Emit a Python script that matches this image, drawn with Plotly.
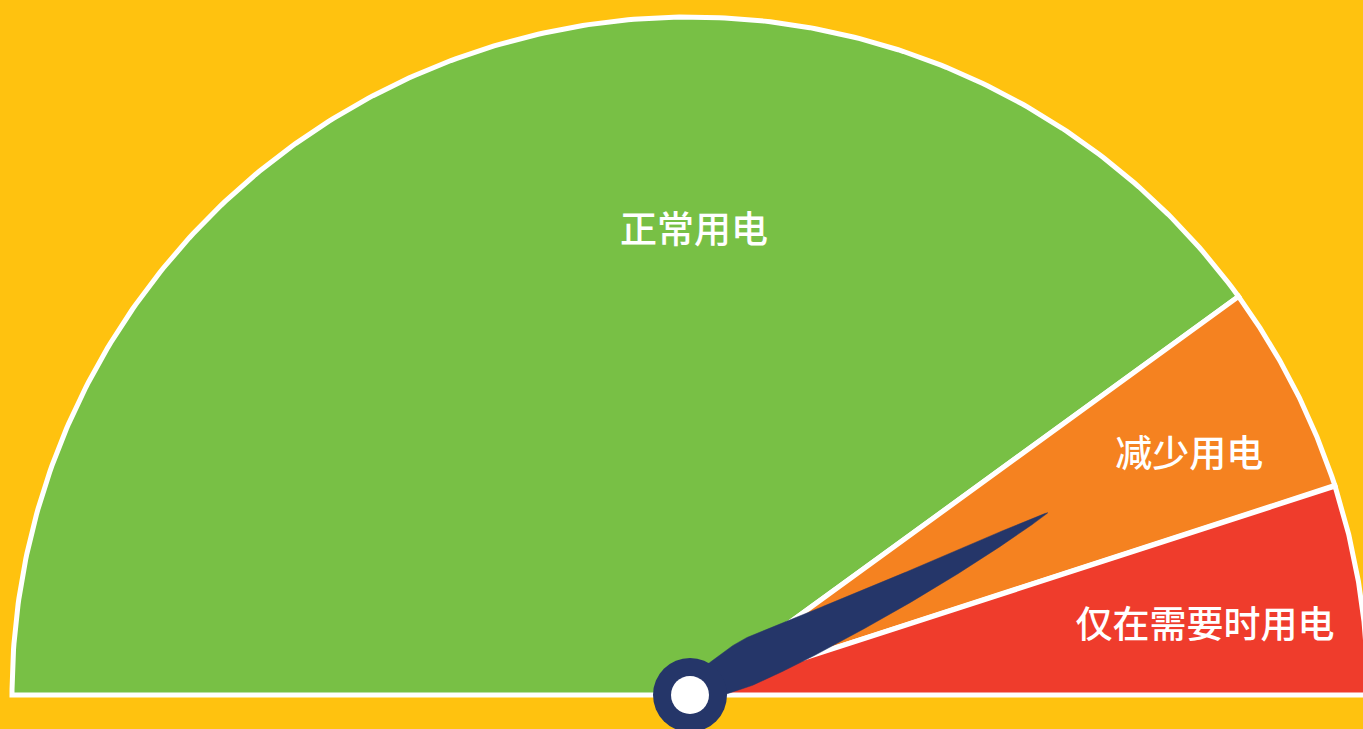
import numpy as np
import plotly.graph_objects as go

# ---- data ----
categories = ["正常用电", "减少用电", "仅在需要时用电"]
band_starts = [0, 80, 90]
band_ends = [80, 90, 100]
needle_value = 85
scale_min, scale_max = 0, 100

# ---- styling / placement ----
band_colors = ["#78C045", "#F58220", "#EF3C2C"]
bg_color = "#FFC20F"
navy = "#253669"
label_places = [(89.5, 0.68), (25.4, 0.815), (7.35, 0.766)]  # (angle deg, radius fraction)
W_PX, H_PX = 1363, 729
CX_PX, CY_PX, R_PX = 690, 695, 678
needle_len = 401.5 / R_PX


def angle_of(v):
    return np.pi * (1 - (v - scale_min) / (scale_max - scale_min))


fig = go.Figure()

# gauge bands
for name, s, e, c in zip(categories, band_starts, band_ends, band_colors):
    th = np.linspace(angle_of(s), angle_of(e), 300)
    xs = np.concatenate([[0], np.cos(th), [0]])
    ys = np.concatenate([[0], np.sin(th), [0]])
    fig.add_trace(go.Scatter(x=xs, y=ys, mode="lines", fill="toself",
                             fillcolor=c, line=dict(color="white", width=5),
                             hoverinfo="skip", name=name))

# labels
lx = [r * np.cos(np.radians(a)) for a, r in label_places]
ly = [r * np.sin(np.radians(a)) for a, r in label_places]
fig.add_trace(go.Scatter(x=lx, y=ly, mode="text", text=categories,
                         textposition="middle center",
                         textfont=dict(family="Noto Sans CJK SC", size=37,
                                       color="white", weight=500),
                         hoverinfo="skip"))

# needle (leaf-shaped blade, profile in pixel units then scaled)
th = angle_of(needle_value)
u = np.array([np.cos(th), np.sin(th)])
n = np.array([-np.sin(th), np.cos(th)])
Lp = needle_len * R_PX
tp = np.linspace(0, Lp, 400)
x = np.clip((tp - 76) / (Lp - 76), 0, 1)
hw = 23 * (1 - x ** 1.25) ** 0.8
base = tp < 76
hw[base] = 17 + 6 * np.sin(np.pi / 2 * np.clip((tp[base] - 30) / 46, 0, 1))
mid = np.where(tp > 123,
               2.8 * np.sin(np.pi * np.clip((tp - 123) / (Lp - 123), 0, 1)),
               -2.4 * np.clip((123 - tp) / 47, 0, 1))
t = tp / R_PX
w = hw / R_PX
m = mid / R_PX
upper = np.outer(t, u) + np.outer(w - m, n)
lower = np.outer(t, u) - np.outer(w + m, n)
poly = np.vstack([upper, lower[::-1], upper[:1]])
fig.add_trace(go.Scatter(x=poly[:, 0], y=poly[:, 1], mode="lines", fill="toself",
                         fillcolor=navy, line=dict(color=navy, width=0.5),
                         hoverinfo="skip"))

# hub
fig.add_trace(go.Scatter(x=[0], y=[0], mode="markers",
                         marker=dict(size=74, color=navy, line=dict(width=0)),
                         hoverinfo="skip"))
fig.add_trace(go.Scatter(x=[0], y=[0], mode="markers",
                         marker=dict(size=38, color="white", line=dict(width=0)),
                         hoverinfo="skip"))

xr = [(0 - CX_PX) / R_PX, (W_PX - CX_PX) / R_PX]
yr = [(CY_PX - H_PX) / R_PX, CY_PX / R_PX]
fig.update_layout(
    width=W_PX, height=H_PX,
    margin=dict(l=0, r=0, t=0, b=0),
    paper_bgcolor=bg_color, plot_bgcolor=bg_color,
    showlegend=False,
    xaxis=dict(range=xr, visible=False, fixedrange=True),
    yaxis=dict(range=yr, visible=False, fixedrange=True),
)
fig.write_html("out.html", config={"displayModeBar": False},
               post_script="document.body.style.margin='0';document.body.style.background='" + bg_color + "';")
